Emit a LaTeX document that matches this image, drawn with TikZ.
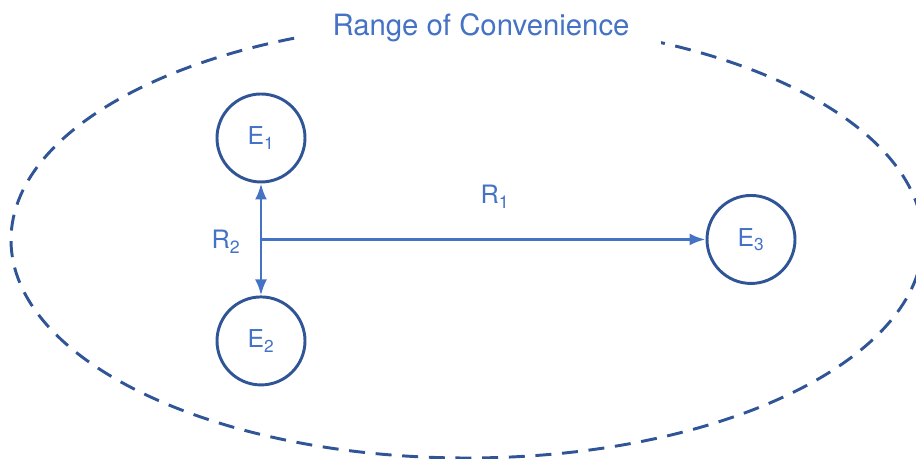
\documentclass[tikz,border=0pt]{standalone}
\usepackage{fontspec}
\setmainfont{TeX Gyre Heros}
\usetikzlibrary{arrows.meta,positioning,calc}

\definecolor{darkblue}{RGB}{47,85,151}
\definecolor{midblue}{RGB}{68,114,196}

\begin{document}
\begin{tikzpicture}[
    x=0.75pt, y=0.75pt,
    node distance=84pt,
    entity/.style={circle, draw=darkblue, line width=2.2pt, minimum size=66pt,
                   inner sep=0pt, text=midblue, font=\fontsize{18.5}{20}\selectfont},
    rlabel/.style={text=midblue, font=\fontsize{19}{22}\selectfont},
    titlebox/.style={text=midblue, fill=white, inner xsep=24pt, inner ysep=6pt,
                  font=\fontsize{22}{26}\selectfont},
    rangeline/.style={draw=darkblue, line width=2.2pt, dash pattern=on 12pt off 8pt},
    flow/.style={{Latex[length=12pt,width=9pt]}-{Latex[length=12pt,width=9pt]},
                 draw=midblue, line width=2.1pt},
    oneway/.style={-{Latex[length=12pt,width=9pt]}, draw=midblue, line width=2.1pt}
]
\useasboundingbox (0,0) rectangle (916,459);
\clip (0,0) rectangle (916,459);
% range of convenience
\draw[rangeline] (467,219) ellipse [x radius=342pt, y radius=163.5pt];
\node[titlebox] (rtitle) at (481,431) {Range of Convenience};
% elements
\node[entity] (e1) at (261,321) {E\textsubscript{1}};
\node[entity, below=of e1] (e2) {E\textsubscript{2}};
\coordinate (mid) at ($(e1.south)!0.5!(e2.north)$);
\node[entity] (e3) at (751,0 |- mid) {E\textsubscript{3}};
% constructs
\draw[flow] (e1) -- (e2);
\draw[oneway] (mid) -- (e3);
\node[rlabel] (r1) at (495,262) {R\textsubscript{1}};
\node[rlabel] (r2) at (226,217) {R\textsubscript{2}};
\end{tikzpicture}
\end{document}
